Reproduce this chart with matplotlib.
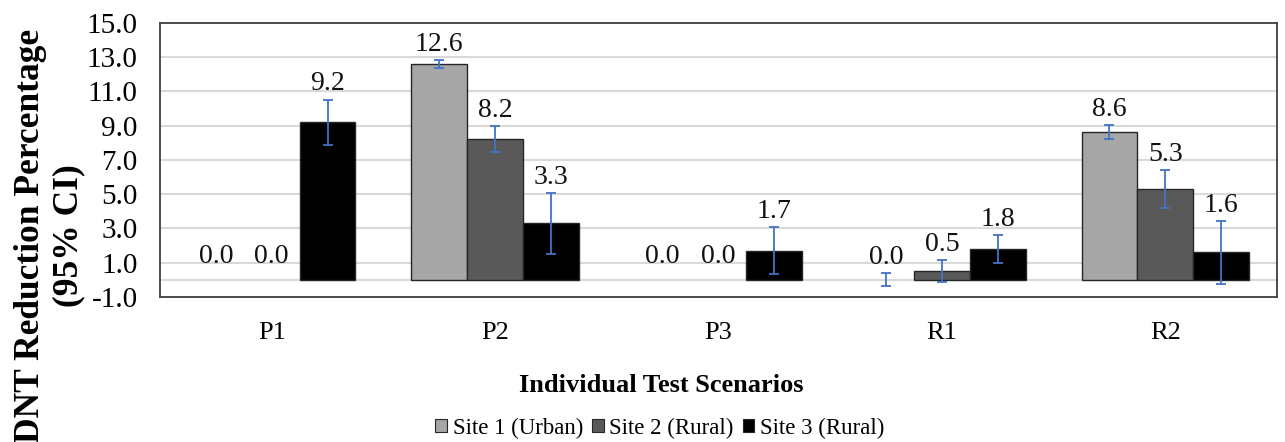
import matplotlib
matplotlib.use("Agg")
import matplotlib.pyplot as plt
import numpy as np
from matplotlib.patches import Patch

plt.rcParams['font.family'] = ['Liberation Serif', 'DejaVu Serif']

scenarios = ['P1', 'P2', 'P3', 'R1', 'R2']
sites = ['Site 1 (Urban)', 'Site 2 (Rural)', 'Site 3 (Rural)']
colors = ['#A6A6A6', '#595959', '#000000']

# reduction percentage per site, one list per site across scenarios
site1 = [0.0, 12.6, 0.0, 0.0, 8.6]
site2 = [0.0, 8.2, 0.0, 0.5, 5.3]
site3 = [9.2, 3.3, 1.7, 1.8, 1.6]
# 95% CI half widths (nan = no error bar shown)
err1 = [np.nan, 0.25, np.nan, 0.38, 0.41]
err2 = [np.nan, 0.77, np.nan, 0.63, 1.12]
err3 = [1.32, 1.78, 1.36, 0.84, 1.85]

values = [site1, site2, site3]
errors = [err1, err2, err3]

fig = plt.figure(figsize=(12.85, 4.42), dpi=100)
ax = fig.add_axes([160/1285, 1-297/442, (1277-160)/1285, (297-22.7)/442])

x = np.arange(len(scenarios))
w = 0.25
for i in range(3):
    xs = x + (i-1)*w
    v = np.array(values[i])
    e = np.array(errors[i])
    lw = np.where(v > 0, 1.0, 0.0)
    ax.bar(xs, v, w, color=colors[i], edgecolor='#262626', linewidth=lw, zorder=3)
    m = ~np.isnan(e)
    ax.errorbar(xs[m], v[m], yerr=e[m], fmt='none', ecolor='#4472C4',
                elinewidth=1.3, capsize=3.3, capthick=1.3, zorder=4)
    for xi, vi, ei in zip(xs, v, e):
        if np.isnan(ei):
            top, off = vi, 16.5
        else:
            top, off = vi + ei, 11.2
        ax.annotate(f'{vi:.1f}', (xi, top), xytext=(0, off), textcoords='offset points',
                    ha='center', va='center', fontsize=20, color='#111111')

ax.set_xlim(-0.5, 4.5)
ax.set_ylim(-1, 15)
ax.set_yticks(np.arange(-1, 16, 2))
ax.set_yticklabels([f'{t:.1f}' for t in np.arange(-1, 16, 2)])
ax.set_xticks(x)
ax.set_xticklabels(scenarios)
ax.tick_params(axis='y', length=0, pad=16, labelsize=21)
ax.tick_params(axis='x', length=0, pad=18, labelsize=19)
ax.yaxis.grid(True, color='#D9D9D9', linewidth=1.5)
ax.axhline(0, color='#D9D9D9', linewidth=1.5, zorder=2)
ax.set_axisbelow(True)
for s in ax.spines.values():
    s.set_color('#404040')
    s.set_linewidth(1.3)

fig.text(50/1285, 1-236/442, 'DNT Reduction Percentage\n(95% CI)', rotation=90,
         ha='center', va='center', fontsize=25.5, fontweight='bold', linespacing=1.2)
fig.text(661/1285, 1-385/442, 'Individual Test Scenarios', ha='center', va='center',
         fontsize=19, fontweight='bold')

handles = [Patch(facecolor=c, edgecolor='#262626', linewidth=0.8) for c in colors]
fig.legend(handles, sites, loc='center', bbox_to_anchor=(660/1285, 1-428/442), ncol=3,
           frameon=False, fontsize=16.5, handlelength=0.5, handleheight=0.5,
           handletextpad=0.25, columnspacing=0.4, borderaxespad=0)

fig.savefig('out.png', dpi=100)
